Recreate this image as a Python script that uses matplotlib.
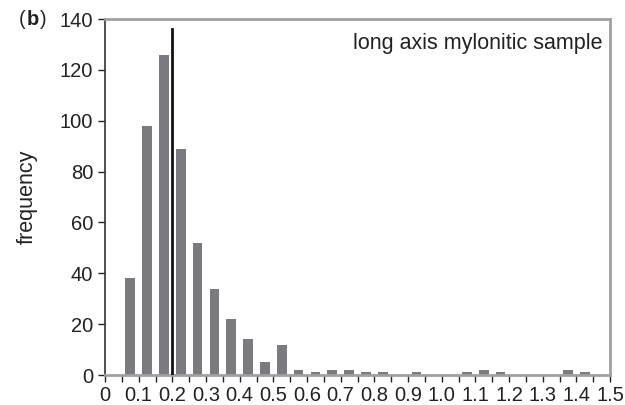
import matplotlib
matplotlib.use("Agg")
import matplotlib.pyplot as plt
import numpy as np

plt.rcParams['font.family'] = ['Liberation Sans', 'DejaVu Sans']

# histogram bins (bin centres) and counts
bin_centres = np.arange(0.025, 1.5, 0.05)
counts = [0, 38, 98, 126, 89, 52, 34, 22, 14, 5,
          12, 2, 1, 2, 2, 1, 1, 0, 1, 0,
          0, 1, 2, 1, 0, 0, 0, 2, 1, 0]
marker_x = 0.2
marker_top = 136
x_ticks = np.round(np.arange(0, 1.51, 0.1), 1)

fig = plt.figure(figsize=(6.25, 4.05), dpi=100)
ax = fig.add_axes([0.168, 0.074, 0.808, 0.879])

ax.bar(bin_centres, counts, width=0.029, color='#7b7b7f', zorder=2)
ax.plot([marker_x, marker_x], [0, marker_top], color='#111111', lw=2, zorder=3)

ax.set_xlim(0, 1.5)
ax.set_ylim(0, 140)
ax.set_xticks(x_ticks)
ax.set_xticklabels(['0'] + ['%.1f' % v for v in x_ticks[1:]])
ax.set_xticks(np.arange(0.05, 1.5, 0.1), minor=True)
ax.set_yticks(range(0, 141, 20))
ax.tick_params(axis='both', labelsize=14.5, colors='#222222', length=5, width=1)
ax.tick_params(axis='x', which='minor', length=5, width=1, color='#222222')
ax.tick_params(axis='x', pad=3)

for side in ['top', 'right']:
    ax.spines[side].set_color('#a0a0a0')
    ax.spines[side].set_linewidth(2)
ax.spines['bottom'].set_color('#a0a0a0')
ax.spines['bottom'].set_linewidth(2)
ax.spines['left'].set_color('#333333')
ax.spines['left'].set_linewidth(1.2)

ax.set_ylabel('frequency', fontsize=15.5, color='#222222', labelpad=16)
ax.text(0.985, 0.96, 'long axis mylonitic sample', transform=ax.transAxes,
        ha='right', va='top', fontsize=15.5, color='#222222')
fig.text(0.03, 0.952, '(', fontsize=14.5, ha='left', va='center', color='#222222')
fig.text(0.0425, 0.952, 'b', fontsize=14.5, fontweight='bold', ha='left', va='center', color='#222222')
fig.text(0.0635, 0.952, ')', fontsize=14.5, ha='left', va='center', color='#222222')

fig.savefig('out.png', dpi=100)
